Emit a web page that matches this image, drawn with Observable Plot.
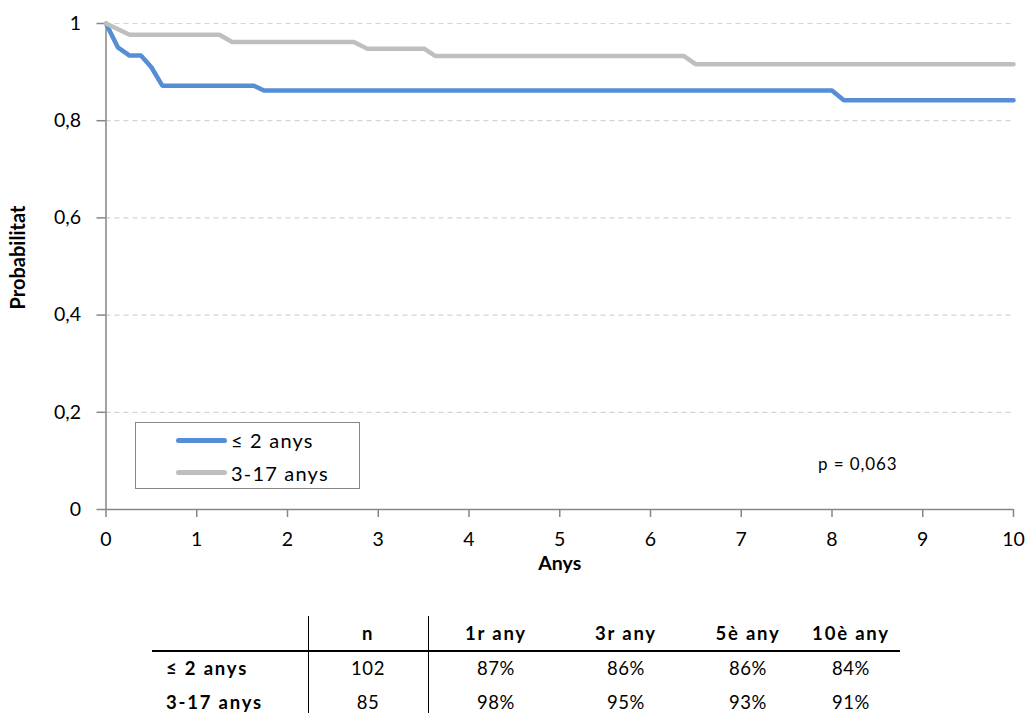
<!DOCTYPE html>
<html>
<head>
<meta charset="utf-8">
<script src="https://cdn.jsdelivr.net/npm/d3@7"></script>
<script src="https://cdn.jsdelivr.net/npm/@observablehq/plot@0.6"></script>
<style>
  html, body { margin:0; padding:0; background:#fff; }
  body { width:1031px; height:715px; position:relative; overflow:hidden; font-family:Lato, sans-serif; }
  #chart { position:absolute; left:0; top:0; }
  .abs { position:absolute; white-space:nowrap; }
</style>
</head>
<body>
<div id="chart"></div>
<script>
// ---- Data ----
const seriesNames = ["≤ 2 anys", "3-17 anys"];
const seriesColors = ["#558ED5", "#BFBFBF"];
const yearsLe2 = [0, 0.13, 0.26, 0.385, 0.50, 0.62, 1.63, 1.74, 8.0, 8.13, 10];
const survLe2  = [1, 0.951, 0.934, 0.934, 0.910, 0.872, 0.872, 0.862, 0.862, 0.842, 0.842];
const years317 = [0, 0.26, 1.25, 1.39, 2.73, 2.88, 3.51, 3.63, 6.37, 6.50, 10];
const surv317  = [1, 0.977, 0.977, 0.962, 0.962, 0.948, 0.948, 0.933, 0.933, 0.916, 0.916];
const xTicks = [0,1,2,3,4,5,6,7,8,9,10];
const yTicks = [0, 0.2, 0.4, 0.6, 0.8, 1];
const gridTicks = [0.2, 0.4, 0.6, 0.8, 1];
const pValueText = "p = 0,063";
const tableHeaders = ["", "n", "1r any", "3r any", "5è any", "10è any"];
const tableRowLabels = ["≤ 2 anys", "3-17 anys"];
const tableN = [102, 85];
const tablePct1 = ["87%", "98%"];
const tablePct3 = ["86%", "95%"];
const tablePct5 = ["86%", "93%"];
const tablePct10 = ["84%", "91%"];

const rows = [
  ...yearsLe2.map((t,i) => ({t, s: survLe2[i], g: seriesNames[0]})),
  ...years317.map((t,i) => ({t, s: surv317[i], g: seriesNames[1]}))
];
const fmt = d => String(d).replace(".", ",");

const chart = Plot.plot({
  width: 1031, height: 600,
  marginLeft: 105.5, marginRight: 18, marginTop: 23, marginBottom: 91,
  style: {fontFamily: "Lato, sans-serif", fontSize: "19.5px", color: "#000", background: "transparent"},
  x: {domain: [0, 10]},
  y: {domain: [0, 1]},
  color: {domain: seriesNames, range: seriesColors},
  marks: [
    Plot.gridY(gridTicks, {stroke: "#D4D4D4", strokeOpacity: 1, strokeDasharray: "5,4", strokeWidth: 1.2}),
    Plot.axisX({ticks: xTicks, tickSize: 8, tickPadding: 15, stroke: "#868686", fill: "#000", label: null, tickFormat: fmt, strokeWidth: 1.5}),
    Plot.axisY({ticks: yTicks, tickSize: 9, tickPadding: 16, stroke: "#868686", fill: "#000", label: null, tickFormat: fmt, strokeWidth: 1.5}),
    Plot.ruleX([0], {stroke: "#868686", strokeWidth: 1.5}),
    Plot.ruleY([0], {stroke: "#868686", strokeWidth: 1.5}),
    Plot.line(rows, {x: "t", y: "s", z: "g", stroke: "g", strokeWidth: 4.5, curve: "linear", strokeLinejoin: "miter"}),
    Plot.text(["Anys"], {frameAnchor: "bottom", dy: 60, fontWeight: "bold", fontSize: 19.5, fill: "#000", letterSpacing: "1px"}),
    Plot.text(["Probabilitat"], {frameAnchor: "left", textAnchor: "middle", dx: -87, dy: -9, rotate: -90, fontWeight: "bold", fontSize: 20, fill: "#000", letterSpacing: "2.6px"})
  ]
});
document.getElementById("chart").appendChild(chart);

// ---- Legend ----
const legend = document.createElement("div");
legend.className = "abs";
Object.assign(legend.style, {left: "135px", top: "422px", width: "223px", height: "65px", border: "1.5px solid #868686", background: "#fff"});
document.body.appendChild(legend);
seriesNames.forEach((name, i) => {
  const y = 17 + i * 32.5;
  const sw = document.createElement("div");
  sw.className = "abs";
  Object.assign(sw.style, {left: "40px", top: (y - 2.5) + "px", width: "51px", height: "5px", borderRadius: "3px", background: seriesColors[i]});
  legend.appendChild(sw);
  const lab = document.createElement("div");
  lab.className = "abs";
  lab.textContent = name;
  Object.assign(lab.style, {left: "95px", top: (y - 12) + "px", fontSize: "20px", lineHeight: "24px", color: "#000", letterSpacing: "1.2px"});
  legend.appendChild(lab);
});

// ---- p value ----
const pv = document.createElement("div");
pv.className = "abs";
pv.textContent = pValueText;
Object.assign(pv.style, {left: "818px", top: "452px", fontSize: "17px", lineHeight: "24px", letterSpacing: "0.9px", color: "#000"});
document.body.appendChild(pv);

// ---- Table ----
const colCenters = [null, 368, 496, 626, 748, 851];
const rowCenters = [633, 668, 702];
const table = document.createElement("div");
table.className = "abs";
Object.assign(table.style, {left: "0px", top: "0px", width: "1031px", height: "715px"});
document.body.appendChild(table);
function cell(text, x, yc, bold, align) {
  const d = document.createElement("div");
  d.className = "abs";
  d.textContent = text;
  Object.assign(d.style, {top: (yc - 12) + "px", lineHeight: "24px", fontSize: "18.5px", fontWeight: bold ? "bold" : "normal", color: "#000", letterSpacing: bold ? "1.8px" : "0.6px"});
  if (align === "left") d.style.left = x + "px";
  else { d.style.left = (x - 60) + "px"; d.style.width = "120px"; d.style.textAlign = "center"; }
  table.appendChild(d);
}
tableHeaders.forEach((h, j) => { if (h) cell(h, colCenters[j], rowCenters[0], true); });
tableRowLabels.forEach((lab, i) => {
  const yc = rowCenters[i + 1];
  cell(lab, 166, yc, true, "left");
  cell(String(tableN[i]), colCenters[1], yc, false);
  cell(tablePct1[i], colCenters[2], yc, false);
  cell(tablePct3[i], colCenters[3], yc, false);
  cell(tablePct5[i], colCenters[4], yc, false);
  cell(tablePct10[i], colCenters[5], yc, false);
});
function line(l, t, w, h) {
  const d = document.createElement("div");
  d.className = "abs";
  Object.assign(d.style, {left: l + "px", top: t + "px", width: w + "px", height: h + "px", background: "#000"});
  table.appendChild(d);
}
line(152, 649.5, 748, 2);
line(307.5, 616, 1.3, 97);
line(428, 616, 1.3, 97);
</script>
</body>
</html>
